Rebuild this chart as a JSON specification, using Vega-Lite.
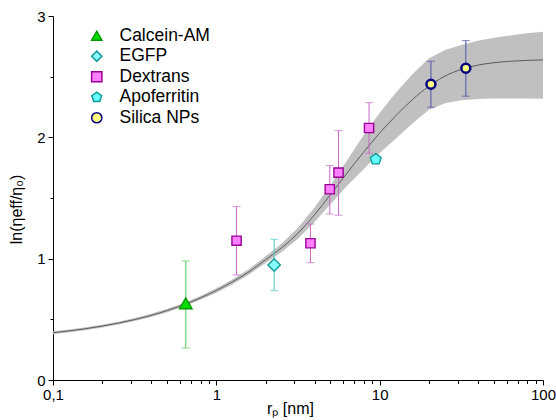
{
  "$schema": "https://vega.github.io/schema/vega-lite/v6.json",
  "width": 490,
  "height": 364,
  "autosize": "none",
  "padding": {"left": 53, "top": 16, "right": 13, "bottom": 40},
  "background": "white",
  "config": {
    "view": {"stroke": null},
    "font": "Liberation Sans",
    "axis": {"grid": false, "domainColor": "black", "tickColor": "black", "labelColor": "black", "titleColor": "black", "titleFontWeight": "normal", "labelFontSize": 15, "titleFontSize": 16, "labelFont": "Liberation Sans", "titleFont": "Liberation Sans", "labelOverlap": false, "labelFlush": false, "labelBound": false},
    "legend": {"orient": "none", "legendX": 35, "legendY": 11, "padding": 0, "labelFontSize": 17.5, "labelFont": "Liberation Sans", "labelColor": "black", "rowPadding": 1.5, "labelOffset": 14, "symbolStrokeWidth": 1.5, "symbolSize": 105}
  },
  "datasets": {
    "curve": [
      {"r": 0.1, "y": 0.39, "lo": 0.378, "hi": 0.402},
      {"r": 0.1259, "y": 0.405, "lo": 0.393, "hi": 0.417},
      {"r": 0.1585, "y": 0.423, "lo": 0.411, "hi": 0.435},
      {"r": 0.1995, "y": 0.444, "lo": 0.432, "hi": 0.456},
      {"r": 0.2512, "y": 0.469, "lo": 0.457, "hi": 0.481},
      {"r": 0.3162, "y": 0.498, "lo": 0.486, "hi": 0.51},
      {"r": 0.3981, "y": 0.532, "lo": 0.519, "hi": 0.545},
      {"r": 0.5012, "y": 0.573, "lo": 0.559, "hi": 0.587},
      {"r": 0.631, "y": 0.62, "lo": 0.605, "hi": 0.635},
      {"r": 0.7943, "y": 0.675, "lo": 0.659, "hi": 0.691},
      {"r": 1, "y": 0.738, "lo": 0.72, "hi": 0.756},
      {"r": 1.259, "y": 0.81, "lo": 0.79, "hi": 0.83},
      {"r": 1.585, "y": 0.892, "lo": 0.869, "hi": 0.915},
      {"r": 1.995, "y": 0.99, "lo": 0.962, "hi": 1.018},
      {"r": 2.512, "y": 1.09, "lo": 1.055, "hi": 1.125},
      {"r": 3.162, "y": 1.21, "lo": 1.165, "hi": 1.255},
      {"r": 3.981, "y": 1.36, "lo": 1.3, "hi": 1.42},
      {"r": 5.012, "y": 1.53, "lo": 1.45, "hi": 1.61},
      {"r": 6.31, "y": 1.705, "lo": 1.6, "hi": 1.81},
      {"r": 7.943, "y": 1.875, "lo": 1.735, "hi": 2.015},
      {"r": 10, "y": 2.035, "lo": 1.87, "hi": 2.2},
      {"r": 12.59, "y": 2.18, "lo": 1.99, "hi": 2.37},
      {"r": 15.85, "y": 2.31, "lo": 2.115, "hi": 2.52},
      {"r": 19.95, "y": 2.42, "lo": 2.225, "hi": 2.65},
      {"r": 25.12, "y": 2.505, "lo": 2.28, "hi": 2.72},
      {"r": 31.62, "y": 2.56, "lo": 2.305, "hi": 2.76},
      {"r": 39.81, "y": 2.595, "lo": 2.315, "hi": 2.795},
      {"r": 50.12, "y": 2.615, "lo": 2.32, "hi": 2.82},
      {"r": 63.1, "y": 2.627, "lo": 2.32, "hi": 2.84},
      {"r": 79.43, "y": 2.634, "lo": 2.32, "hi": 2.857},
      {"r": 100, "y": 2.638, "lo": 2.318, "hi": 2.87}
    ],
    "points": [
      {"series": "Calcein-AM", "r": 0.65, "y": 0.632, "lo": 0.264, "hi": 0.981},
      {"series": "EGFP", "r": 2.26, "y": 0.948, "lo": 0.736, "hi": 1.16},
      {"series": "Dextrans", "r": 1.33, "y": 1.148, "lo": 0.866, "hi": 1.429},
      {"series": "Dextrans", "r": 3.77, "y": 1.127, "lo": 0.967, "hi": 1.286},
      {"series": "Dextrans", "r": 4.95, "y": 1.572, "lo": 1.368, "hi": 1.767},
      {"series": "Dextrans", "r": 5.6, "y": 1.709, "lo": 1.358, "hi": 2.055},
      {"series": "Dextrans", "r": 8.61, "y": 2.077, "lo": 1.869, "hi": 2.286},
      {"series": "Apoferritin", "r": 9.46, "y": 1.819, "lo": null, "hi": null},
      {"series": "Silica NPs", "r": 20.6, "y": 2.438, "lo": 2.248, "hi": 2.627},
      {"series": "Silica NPs", "r": 33.7, "y": 2.57, "lo": 2.339, "hi": 2.797}
    ]
  },
  "encoding": {
    "x": {
      "field": "r", "type": "quantitative", "title": "rₚ [nm]",
      "scale": {"type": "log", "domain": [0.1, 100], "nice": false},
      "axis": {
        "values": [0.1, 0.2, 0.3, 0.4, 0.5, 0.6, 0.7, 0.8, 0.9, 1, 2, 3, 4, 5, 6, 7, 8, 9, 10, 20, 30, 40, 50, 60, 70, 80, 90, 100],
        "labelExpr": "datum.value==0.1 ? '0,1' : (datum.value==1 || datum.value==10 || datum.value==100) ? toString(datum.value) : ''",
        "tickSize": {"condition": {"test": "datum.value==0.1 || datum.value==1 || datum.value==10 || datum.value==100", "value": 5}, "value": 3.5},
        "labelPadding": 2, "titlePadding": -2, "titleX": 237
      }
    }
  },
  "layer": [
    {
      "data": {"name": "curve"},
      "mark": {"type": "area", "color": "#c0c0c0", "opacity": 1},
      "encoding": {
        "y": {
          "field": "lo", "type": "quantitative", "title": "ln(ηeff/η₀)",
          "scale": {"domain": [0, 3], "nice": false},
          "axis": {
            "values": [0, 0.5, 1, 1.5, 2, 2.5, 3],
            "labelExpr": "datum.value % 1 == 0 ? toString(datum.value) : ''",
            "tickSize": {"condition": {"test": "datum.value % 1 == 0", "value": 5}, "value": 3},
            "labelPadding": 3, "titlePadding": 12, "titleY": 193
          }
        },
        "y2": {"field": "hi"}
      }
    },
    {
      "data": {"name": "curve"},
      "mark": {"type": "line", "color": "#505050", "strokeWidth": 0.9, "interpolate": "monotone"},
      "encoding": {"y": {"field": "y", "type": "quantitative", "title": "ln(ηeff/η₀)"}}
    },
    {
      "data": {"name": "points"},
      "transform": [{"filter": "datum.lo != null"}],
      "mark": {"type": "rule", "strokeWidth": 1},
      "encoding": {
        "y": {"field": "lo", "type": "quantitative", "title": "ln(ηeff/η₀)"},
        "y2": {"field": "hi"},
        "color": {"condition": [{"test": "datum.series=='Calcein-AM'", "value": "#55c855"}, {"test": "datum.series=='EGFP'", "value": "#50c4c4"}, {"test": "datum.series=='Dextrans'", "value": "#c865c8"}], "value": "#5050a8"}
      }
    },
    {
      "data": {"name": "points"},
      "transform": [{"filter": "datum.lo != null"}],
      "mark": {"type": "tick", "orient": "horizontal", "size": 8, "thickness": 1},
      "encoding": {
        "y": {"field": "lo", "type": "quantitative", "title": "ln(ηeff/η₀)"},
        "color": {"condition": [{"test": "datum.series=='Calcein-AM'", "value": "#55c855"}, {"test": "datum.series=='EGFP'", "value": "#50c4c4"}, {"test": "datum.series=='Dextrans'", "value": "#c865c8"}], "value": "#5050a8"}
      }
    },
    {
      "data": {"name": "points"},
      "transform": [{"filter": "datum.lo != null"}],
      "mark": {"type": "tick", "orient": "horizontal", "size": 8, "thickness": 1},
      "encoding": {
        "y": {"field": "hi", "type": "quantitative", "title": "ln(ηeff/η₀)"},
        "color": {"condition": [{"test": "datum.series=='Calcein-AM'", "value": "#55c855"}, {"test": "datum.series=='EGFP'", "value": "#50c4c4"}, {"test": "datum.series=='Dextrans'", "value": "#c865c8"}], "value": "#5050a8"}
      }
    },
    {
      "data": {"name": "points"},
      "mark": {"type": "point", "filled": true, "opacity": 1},
      "encoding": {
        "y": {"field": "y", "type": "quantitative", "title": "ln(ηeff/η₀)"},
        "shape": {"field": "series", "type": "nominal", "title": null,
          "scale": {"domain": ["Calcein-AM", "EGFP", "Dextrans", "Apoferritin", "Silica NPs"], "range": ["triangle-up", "diamond", "square", "M0,-1L0.951,-0.309L0.588,0.809L-0.588,0.809L-0.951,-0.309Z", "circle"]}},
        "fill": {"field": "series", "type": "nominal", "title": null,
          "scale": {"domain": ["Calcein-AM", "EGFP", "Dextrans", "Apoferritin", "Silica NPs"], "range": ["#00dd00", "#88ffff", "#ff80ff", "#66ffff", "#ffff80"]}},
        "stroke": {"field": "series", "type": "nominal", "title": null,
          "scale": {"domain": ["Calcein-AM", "EGFP", "Dextrans", "Apoferritin", "Silica NPs"], "range": ["#009a00", "#129a9a", "#990099", "#129a9a", "#000080"]}},
        "size": {"condition": [{"test": "datum.series=='Dextrans'", "value": 85}, {"test": "datum.series=='Silica NPs'", "value": 80}, {"test": "datum.series=='Apoferritin'", "value": 130}], "value": 155},
        "strokeWidth": {"condition": {"test": "datum.series=='Silica NPs'", "value": 2.5}, "value": 1.4}
      }
    }
  ]
}
